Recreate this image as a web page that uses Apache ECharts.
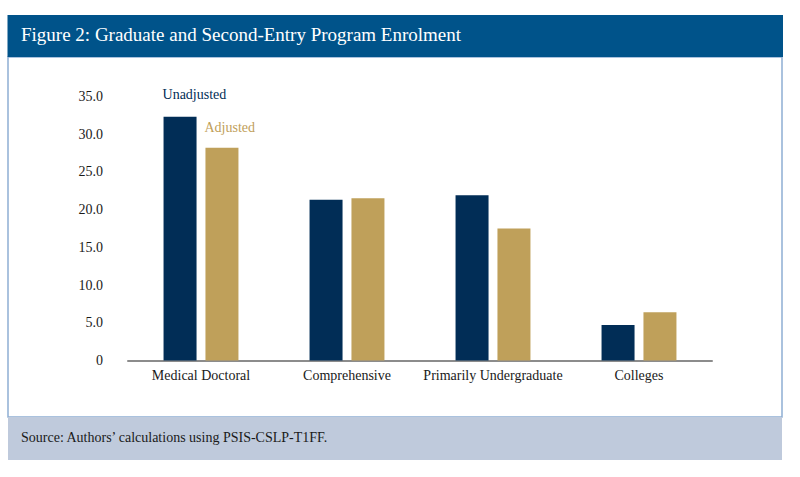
<!DOCTYPE html>
<html>
<head>
<meta charset="utf-8">
<script src="https://cdn.jsdelivr.net/npm/echarts@6/dist/echarts.min.js"></script>
<style>
  html, body { margin: 0; padding: 0; background: #fff; }
  #main { width: 800px; height: 477px; }
</style>
</head>
<body>
<div id="main"></div>
<script>
// data
var categories = ['Medical Doctoral', 'Comprehensive', 'Primarily Undergraduate', 'Colleges'];
var unadjusted = [32.3, 21.3, 21.9, 4.7];
var adjusted = [28.2, 21.5, 17.5, 6.4];
var yTicks = [0, 5, 10, 15, 20, 25, 30, 35];

var navy = '#012d56', gold = '#bfa05a';
var serif = '"Liberation Serif", "DejaVu Serif", serif';

// first bar of each series carries the series name as its label
function withNameLabel(values, name, color, dy) {
  return values.map(function (v, i) {
    if (i !== 0) return v;
    return {
      value: v,
      label: {
        show: true, position: [-1, dy], formatter: name,
        color: color, fontFamily: serif, fontSize: 14, align: 'left', verticalAlign: 'middle'
      }
    };
  });
}

var chart = echarts.init(document.getElementById('main'), null, { renderer: 'svg' });
chart.setOption({
  animation: false,
  backgroundColor: '#fff',
  graphic: [
    { type: 'rect', shape: { x: 8, y: 57, width: 774, height: 360 },
      style: { fill: '#fff', stroke: '#8eafd4', lineWidth: 1.5 }, z: -10 },
    { type: 'rect', shape: { x: 7.5, y: 15, width: 775.5, height: 42 },
      style: { fill: '#00538a' }, z: -9 },
    { type: 'rect', shape: { x: 8, y: 417, width: 774, height: 43 },
      style: { fill: '#bfcadc' }, z: -9 }
  ],
  title: [
    { text: 'Figure 2: Graduate and Second-Entry Program Enrolment', left: 21, top: 25, padding: 0,
      textStyle: { color: '#fff', fontFamily: serif, fontSize: 19, fontWeight: 'normal' } },
    { text: 'Source: Authors\u2019 calculations using PSIS-CSLP-T1FF.', left: 21, top: 430, padding: 0,
      textStyle: { color: '#1a1a1a', fontFamily: serif, fontSize: 14, fontWeight: 'normal' } }
  ],
  grid: { left: 128, right: 88, top: 96.5, bottom: 116.5 },
  xAxis: {
    type: 'category',
    data: categories,
    axisTick: { show: false },
    axisLine: { lineStyle: { color: '#8c8c8c', width: 2 } },
    axisLabel: { interval: 0, color: '#1a1a1a', fontFamily: serif, fontSize: 14, margin: 8 }
  },
  yAxis: {
    type: 'value',
    min: yTicks[0], max: yTicks[yTicks.length - 1], interval: 5,
    splitLine: { show: false },
    axisLine: { show: false },
    axisTick: { show: false },
    axisLabel: {
      color: '#1a1a1a', fontFamily: serif, fontSize: 14, margin: 25,
      formatter: function (v) { return v === 0 ? '0' : v.toFixed(1); }
    }
  },
  series: [
    { name: 'Unadjusted', type: 'bar', barWidth: 33, barGap: '27%',
      itemStyle: { color: navy },
      data: withNameLabel(unadjusted, 'Unadjusted', navy, -22) },
    { name: 'Adjusted', type: 'bar', barWidth: 33,
      itemStyle: { color: gold },
      data: withNameLabel(adjusted, 'Adjusted', gold, -20) }
  ]
});
</script>
</body>
</html>
